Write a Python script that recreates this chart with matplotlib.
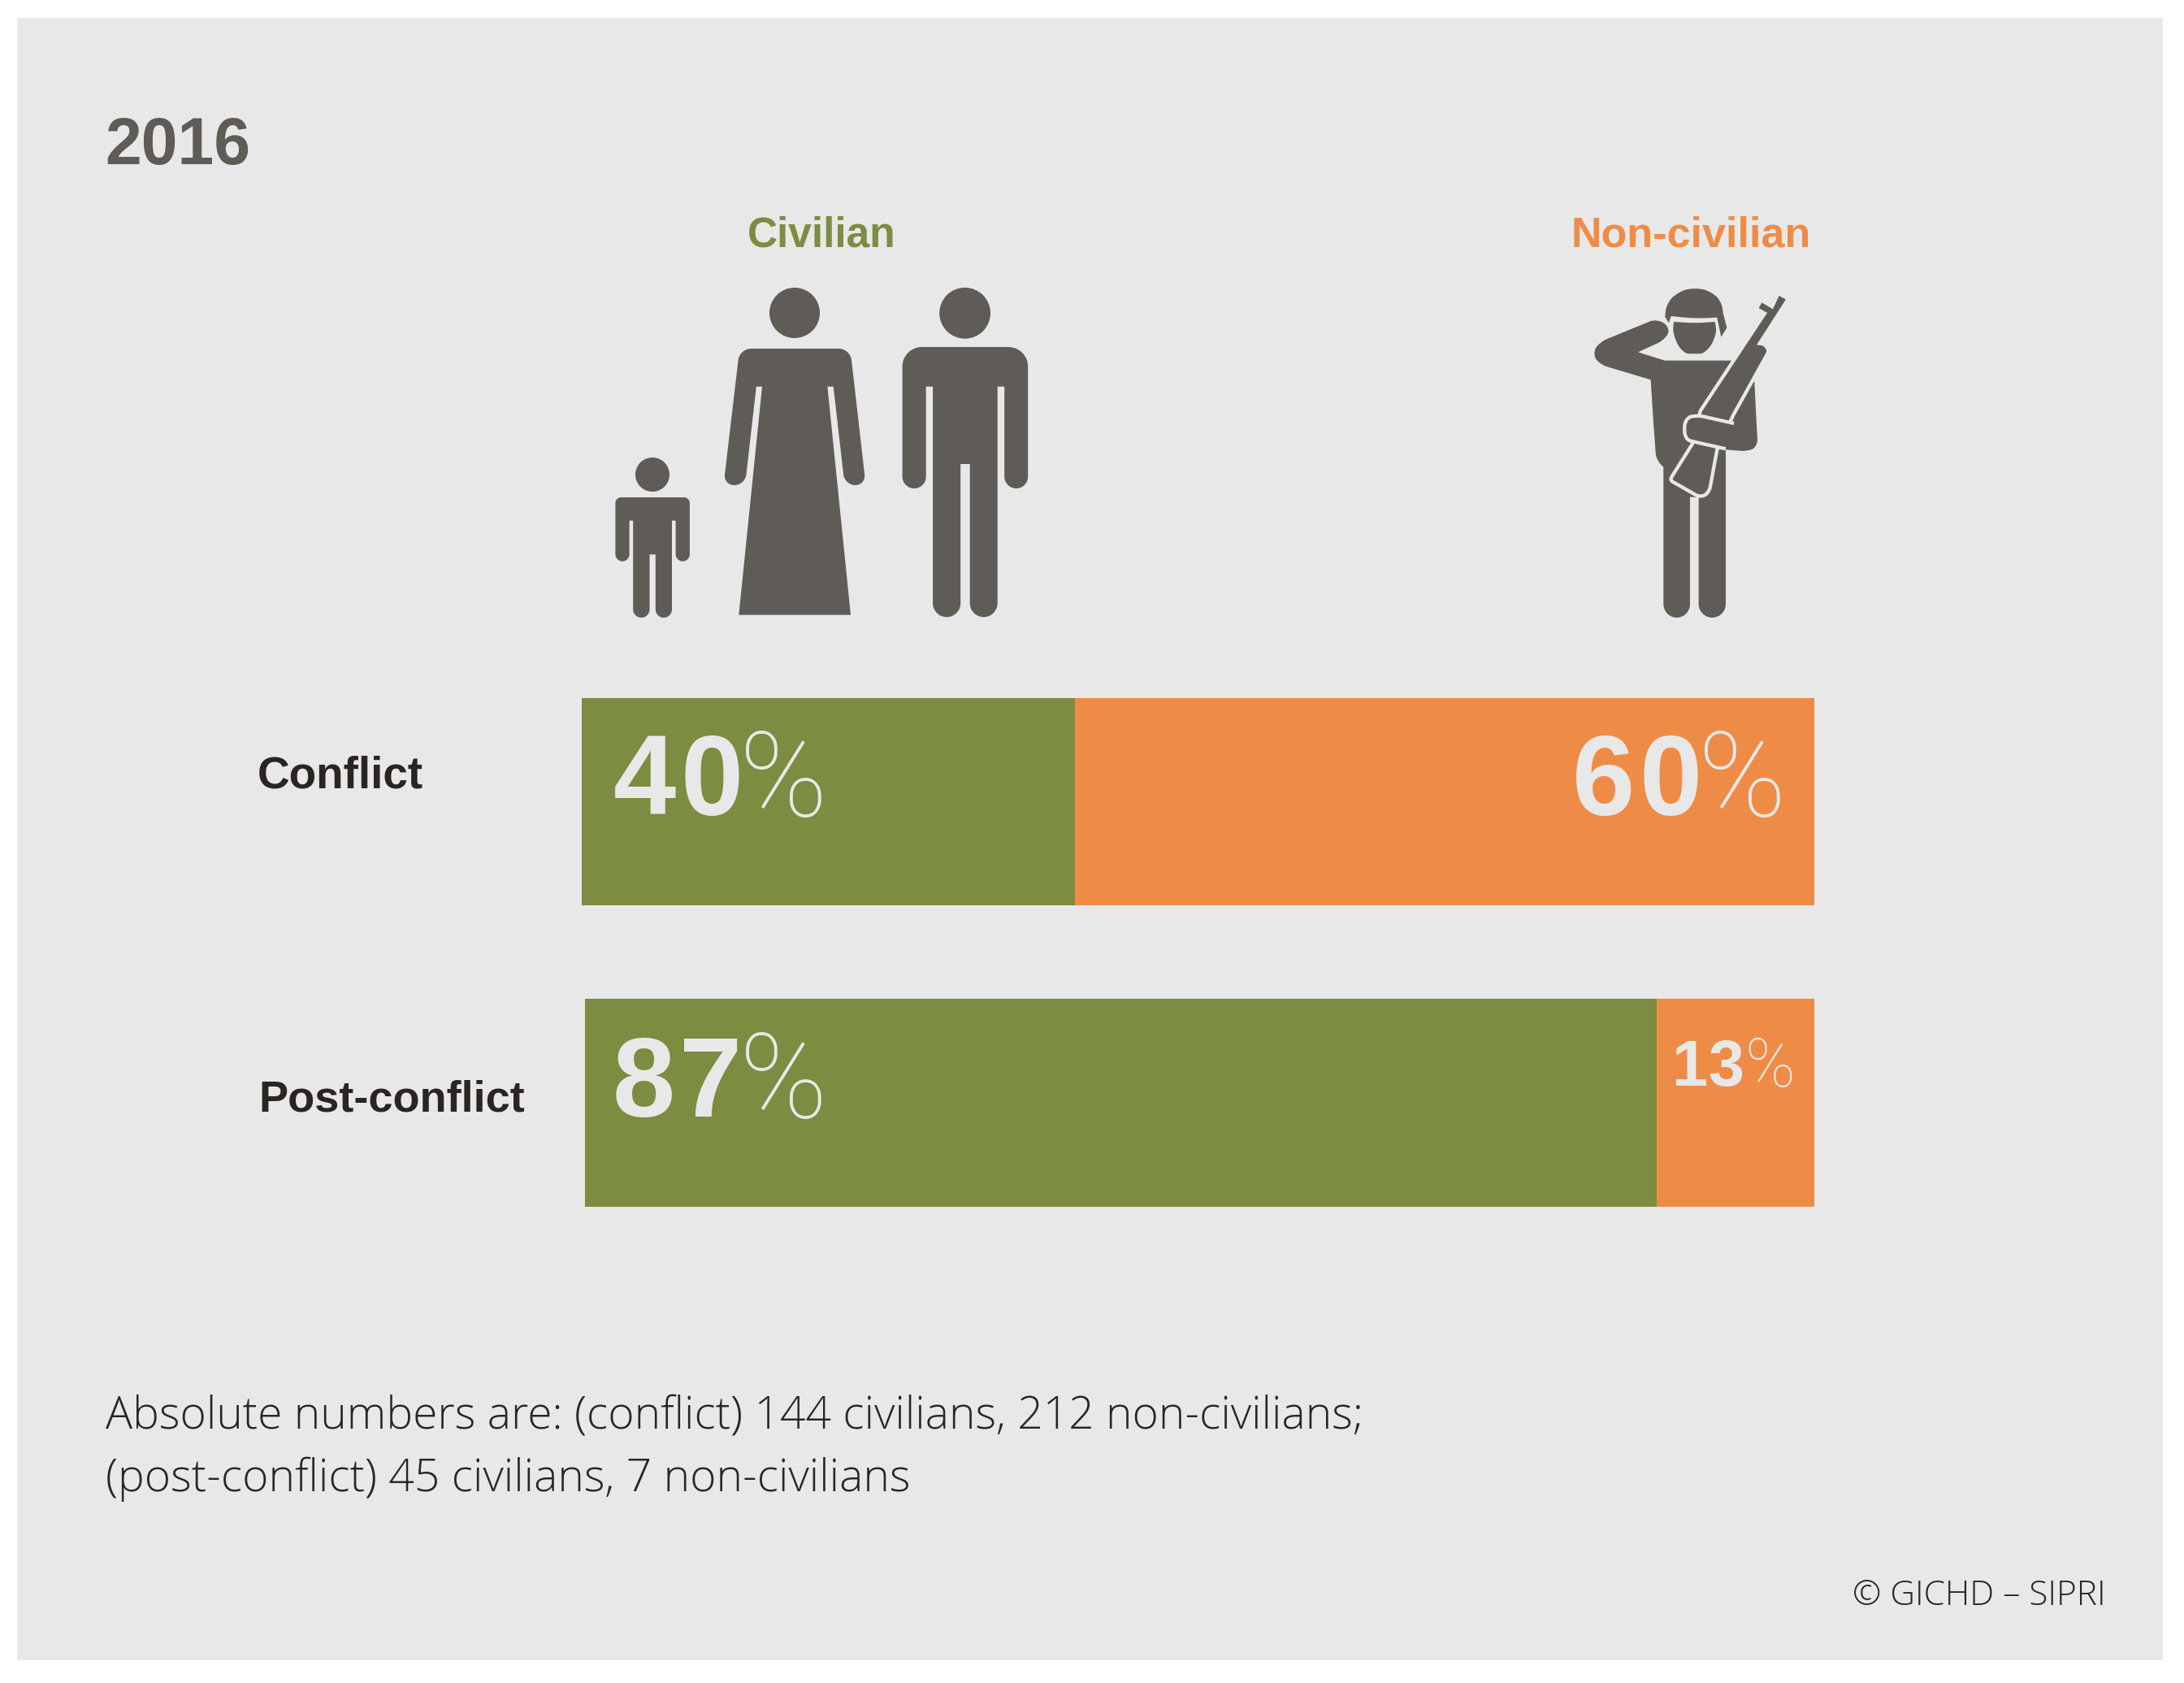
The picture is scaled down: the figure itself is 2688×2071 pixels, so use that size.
import matplotlib
matplotlib.use('Agg')
import matplotlib.pyplot as plt
from matplotlib.path import Path
from matplotlib.patches import PathPatch, Rectangle, Circle

W, H = 2688, 2071

# data
year = '2016'
rows = ['Conflict', 'Post-conflict']
civilian = [40.0, 87.2]
non_civilian = [60.0, 12.8]
series_names = ['Civilian', 'Non-civilian']
note_lines = ['Absolute numbers are: (conflict) 144 civilians, 212 non-civilians;',
              '(post-conflict) 45 civilians, 7 non-civilians']
credit = '\u00a9 GICHD \u2013 SIPRI'

GREY = '#e8e8e8'
DARK = '#5f5c58'
GREEN = '#7c8c41'
ORANGE = '#ee8c47'
INK = '#2a2522'
BOLD = 'Liberation Sans'
LIGHT = 'Open Sans'
PCT = 'Roboto'


def rounded(points, closed=True):
    # points are (x, y, corner radius), corners become cubic curves
    verts, codes = [], []
    n = len(points)
    for i in range(n):
        x, y, r = points[i]
        if r == 0:
            verts.append((x, y))
            codes.append(Path.LINETO if verts[:-1] else Path.MOVETO)
            continue
        px, py = points[i - 1][:2]
        nx, ny = points[(i + 1) % n][:2]
        d1 = ((px - x) ** 2 + (py - y) ** 2) ** 0.5
        d2 = ((nx - x) ** 2 + (ny - y) ** 2) ** 0.5
        r1, r2 = min(r, d1 / 2), min(r, d2 / 2)
        a = (x + (px - x) * r1 / d1, y + (py - y) * r1 / d1)
        b = (x + (nx - x) * r2 / d2, y + (ny - y) * r2 / d2)
        c1 = (a[0] + (x - a[0]) * 0.55, a[1] + (y - a[1]) * 0.55)
        c2 = (b[0] + (x - b[0]) * 0.55, b[1] + (y - b[1]) * 0.55)
        verts.append(a)
        codes.append(Path.LINETO if verts[:-1] else Path.MOVETO)
        verts += [c1, c2, b]
        codes += [Path.CURVE4] * 3
    if closed:
        verts.append(verts[0])
        codes.append(Path.CLOSEPOLY)
    return Path(verts, codes)


def shape(ax, points, **kw):
    style = dict(facecolor=DARK, edgecolor='none', linewidth=0)
    style.update(kw)
    ax.add_patch(PathPatch(rounded(points), **style))


def sold(points):
    return [(1900 + p[0] / 3, 320 + p[1] / 3, p[2] / 3) for p in points]


fig = plt.figure(figsize=(W / 100, H / 100), dpi=100, facecolor='white')
fig.add_artist(Rectangle((21 / W, 1 - 2043 / H), 2641 / W, 2021 / H, transform=fig.transFigure,
                         facecolor=GREY, edgecolor='none', zorder=-1))

# one axes per bar, both run 0-100
bar_boxes = [(716, 859, 2233, 1114), (720, 1229, 2233, 1485)]
for i, (x0, y0, x1, y1) in enumerate(bar_boxes):
    bx = fig.add_axes([x0 / W, 1 - y1 / H, (x1 - x0) / W, (y1 - y0) / H], zorder=1)
    bx.barh(0.5, civilian[i], height=1, color=GREEN, linewidth=0)
    bx.barh(0.5, non_civilian[i], height=1, left=civilian[i], color=ORANGE, linewidth=0)
    bx.set_xlim(0, 100)
    bx.set_ylim(0, 1)
    bx.axis('off')

# pixel overlay for text and icons
ax = fig.add_axes([0, 0, 1, 1], zorder=2)
ax.set_xlim(0, W)
ax.set_ylim(H, 0)
ax.axis('off')

ax.text(129, 202, year, family=BOLD, weight='bold', fontsize=58, color=DARK, va='baseline')
ax.text(1011, 303, series_names[0], family=BOLD, weight='bold', fontsize=37, color=GREEN,
        ha='center', va='baseline')
ax.text(2081, 303, series_names[1], family=BOLD, weight='bold', fontsize=37.5, color=ORANGE,
        ha='center', va='baseline')

ax.text(317, 969, rows[0], family=BOLD, weight='bold', fontsize=39.5, color=INK, va='baseline')
ax.text(318, 1367, rows[1], family=BOLD, weight='bold', fontsize=39, color=INK, va='baseline')

# value, number left edge, baseline, size, digit tracking, percent left edge
labels = [(civilian[0], 755, 1003, 100, 5, 910), (non_civilian[0], 1935, 1003, 100, 5, 2090),
          (civilian[1], 754, 1374, 100, 5, 910), (non_civilian[1], 2058, 1336, 57, 0, 2147)]
for value, x, y, size, track, pct_x in labels:
    advance = 0.556 * size * 100 / 72 + track
    for k, digit in enumerate(f'{round(value)}'):
        ax.text(x + k * advance, y, digit, family=BOLD, weight='bold', fontsize=size, color=GREY,
                va='baseline')
    ax.text(pct_x, y + size * 0.02, '%', family=PCT, weight='light', fontsize=size * 1.05,
            color=GREY, va='baseline')

ax.text(130, 1758, note_lines[0], family=LIGHT, weight='light', fontsize=39.7, color=INK, va='baseline')
ax.text(130, 1835, note_lines[1], family=LIGHT, weight='light', fontsize=39.7, color=INK, va='baseline')
ax.text(2592, 1975, credit, family=LIGHT, weight='light', fontsize=30.5, color=INK, ha='right', va='baseline')

# child
ax.add_patch(Circle((803, 584), 21, facecolor=DARK, edgecolor='none'))
shape(ax, [(757.4, 612, 7), (848.9, 612, 7), (848.9, 690.7, 8.6), (831.6, 690.7, 8.6), (831.6, 640.7, 0),
           (827, 640.7, 0), (827, 760, 10), (806.8, 760, 10), (806.8, 682.3, 0), (799.5, 682.3, 0),
           (799.5, 760, 10), (779.2, 760, 10), (779.2, 640.7, 0), (774.6, 640.7, 0), (774.6, 690.7, 8.6),
           (757.4, 690.7, 8.6)])

# woman
ax.add_patch(Circle((978, 385), 31, facecolor=DARK, edgecolor='none'))
shape(ax, [(910.3, 429, 14), (1046.4, 429, 14), (1065.6, 597, 13), (1039.6, 597, 13), (1025.7, 475.7, 0),
           (1018.4, 475.7, 0), (1047, 756.7, 0), (909.3, 756.7, 0), (938, 475.7, 0), (930.8, 475.7, 0),
           (917, 597, 13), (890.5, 597, 13)])

# man
ax.add_patch(Circle((1187.6, 385.3), 31.4, facecolor=DARK, edgecolor='none'))
shape(ax, [(1110.6, 427, 24), (1265.2, 427, 24), (1265.2, 601, 14.5), (1236.2, 601, 14.5), (1236.2, 475.7, 0),
           (1227.7, 475.7, 0), (1227.7, 759.3, 17), (1193.7, 759.3, 17), (1193.7, 571, 0), (1182.2, 571, 0),
           (1182.2, 759.3, 17), (1148.1, 759.3, 17), (1148.1, 475.7, 0), (1139.7, 475.7, 0), (1139.7, 601, 14.5),
           (1110.6, 601, 14.5)])

# soldier: body first, then rifle and forearm on top with a light outline
shape(ax, sold([(395, 442, 0), (205, 385, 30), (180, 345, 40), (205, 303, 30), (420, 215, 30), (472, 255, 40),
                (440, 298, 20), (348, 340, 0), (447, 371, 0), (692, 371, 0), (778, 450, 0), (790, 690, 30),
                (750, 706, 20), (672, 700, 0), (672, 1320, 50), (572, 1320, 50), (572, 875, 0), (540, 875, 0),
                (540, 1320, 50), (442, 1320, 50), (442, 765, 0), (415, 735, 20), (405, 600, 0)]))
shape(ax, sold([(866, 123, 0), (903, 143, 0), (797, 308, 0), (815, 310, 10), (832, 335, 10), (700, 572, 0),
                (640, 700, 0), (610, 862, 25), (575, 875, 15), (465, 812, 12), (548, 680, 0), (578, 557, 0),
                (816, 197, 0), (785, 180, 0), (803, 148, 0), (843, 172, 0)]),
      edgecolor=GREY, linewidth=3.1)
shape(ax, sold([(705, 600, 0), (565, 572, 30), (522, 580, 30), (518, 660, 35), (560, 672, 20), (750, 706, 20),
                (790, 680, 20), (782, 590, 0)]))
outline = rounded(sold([(702, 603, 0), (565, 572, 25), (520, 585, 30), (520, 662, 30), (560, 672, 15),
                        (672, 697, 0)]), closed=False)
ax.add_patch(PathPatch(outline, facecolor='none', edgecolor=GREY, linewidth=3.1))
# helmet and face
shape(ax, sold([(448, 210, 0), (452, 165, 30), (490, 120, 40), (556, 100, 60), (625, 118, 40), (658, 160, 25),
                (662, 195, 0), (676, 250, 0), (655, 284, 0), (640, 212, 0), (560, 216, 40), (470, 207, 0),
                (462, 232, 0)]))
shape(ax, sold([(480, 228, 0), (560, 233, 30), (632, 228, 0), (640, 275, 50), (600, 345, 50), (556, 346, 20),
                (512, 345, 50), (476, 275, 50)]))

fig.savefig('out.png', dpi=100)
